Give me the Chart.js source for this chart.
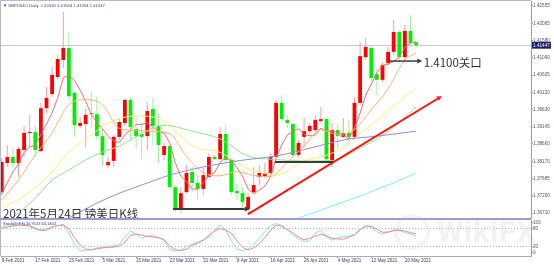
<!DOCTYPE html>
<html>
<head>
<meta charset="utf-8">
<script src="https://cdn.jsdelivr.net/npm/chart.js@4.4.1/dist/chart.umd.min.js"></script>
<style>
  html, body { margin: 0; padding: 0; background: #fff; }
  #wrap { position: relative; width: 554px; height: 265px; overflow: hidden; background: #fff; }
  canvas { position: absolute; left: 0; }
  #main { top: 0; }
  #stoch { top: 219px; }
  .frame { position: absolute; background: #b8b8cc; }
  #mark { position: absolute; left: 437px; top: 214px; font: bold 30px Roboto, sans-serif; color: rgba(175,175,195,0.16); letter-spacing: 1px; }
  #ring { position: absolute; left: 394px; top: 214px; width: 28px; height: 28px; border: 4px solid rgba(175,175,195,0.14); border-radius: 50%; }
</style>
</head>
<body>
<div id="wrap">
  <canvas id="main" width="554" height="219"></canvas>
  <canvas id="stoch" width="554" height="46"></canvas>
  <div class="frame" style="left:0;top:0;width:531px;height:1px"></div>
  <div class="frame" style="left:0;top:0;width:1px;height:256px"></div>
  <div class="frame" style="left:0;top:218px;width:531px;height:2px;background:#9c9cc8"></div>
  <div id="ring"></div>
  <div id="mark">WikiFX</div>
</div>
<script>
// --- Data ---
const openP = [1.3730,1.3812,1.3829,1.3812,1.3849,1.3897,1.3900,1.3846,1.3967,1.4007,
  1.4055,1.4103,1.4137,1.4010,1.3917,1.3922,1.3953,1.3950,1.3888,1.3806,
  1.3818,1.3886,1.3925,1.3990,1.3908,1.3894,1.3888,1.3965,1.3917,1.3835,
  1.3860,1.3744,1.3685,1.3730,1.3787,1.3756,1.3739,1.3773,1.3829,1.3823,
  1.3894,1.3821,1.3733,1.3727,1.3682,1.3730,1.3773,1.3775,1.3784,1.3829,
  1.3982,1.3934,1.3922,1.3835,1.3886,1.3902,1.3905,1.3931,1.3936,1.3812,
  1.3905,1.3886,1.3897,1.3886,1.3982,1.4111,1.4137,1.4063,1.4047,1.4094,
  1.4126,1.4182,1.4111,1.4185,1.41530];
const highP = [1.3826,1.3863,1.3857,1.3857,1.3917,1.3948,1.3919,1.3982,1.4027,1.4083,
  1.4117,1.4239,1.4179,1.4013,1.3942,1.3967,1.4013,1.4001,1.3911,1.3829,
  1.3891,1.3939,1.3996,1.3998,1.3942,1.3925,1.3984,1.3998,1.3953,1.3869,
  1.3863,1.3750,1.3744,1.3806,1.3801,1.3778,1.3798,1.3840,1.3835,1.3914,
  1.3919,1.3826,1.3756,1.3744,1.3727,1.3801,1.3806,1.3812,1.3840,1.3990,
  1.4004,1.3948,1.3925,1.3877,1.3939,1.3925,1.3948,1.3970,1.3939,1.3925,
  1.3922,1.3939,1.3934,1.3998,1.4154,1.4165,1.4145,1.4080,1.4097,1.4140,
  1.4216,1.4188,1.4202,1.4230,1.41564];
const lowP = [1.3719,1.3801,1.3801,1.3773,1.3829,1.3857,1.3829,1.3843,1.3953,1.3998,
  1.4047,1.4080,1.3990,1.3886,1.3911,1.3857,1.3914,1.3877,1.3804,1.3798,
  1.3801,1.3877,1.3917,1.3877,1.3854,1.3821,1.3849,1.3863,1.3812,1.3821,
  1.3739,1.3674,1.3671,1.3727,1.3730,1.3708,1.3722,1.3770,1.3821,1.3821,
  1.3815,1.3722,1.3708,1.3679,1.3665,1.3727,1.3750,1.3770,1.3778,1.3826,
  1.3931,1.3911,1.3829,1.3829,1.3857,1.3897,1.3897,1.3925,1.3815,1.3801,
  1.3854,1.3883,1.3863,1.3877,1.3976,1.4103,1.4044,1.4004,1.4041,1.4089,
  1.4117,1.4097,1.4103,1.4140,1.41354];
const closeP = [1.3815,1.3829,1.3812,1.3852,1.3897,1.3900,1.3849,1.3967,1.3996,1.4061,
  1.4106,1.4137,1.4001,1.3919,1.3925,1.3948,1.3950,1.3888,1.3835,1.3815,
  1.3886,1.3928,1.3990,1.3914,1.3888,1.3886,1.3959,1.3917,1.3863,1.3860,
  1.3744,1.3682,1.3727,1.3784,1.3756,1.3739,1.3778,1.3829,1.3823,1.3894,
  1.3821,1.3730,1.3727,1.3702,1.3716,1.3750,1.3784,1.3784,1.3829,1.3982,
  1.3936,1.3925,1.3835,1.3869,1.3902,1.3917,1.3934,1.3936,1.3823,1.3905,
  1.3888,1.3897,1.3886,1.3982,1.4114,1.4140,1.4052,1.4047,1.4089,1.4126,
  1.4182,1.4111,1.4185,1.4151,1.41447];

// moving averages as drawn (MA5 every bar, the slower ones at sampled bars)
const ma5 = [1.3725,1.3756,1.3787,1.3809,1.3841,1.3858,1.3862,1.3893,1.3922,1.3954,
  1.3996,1.4053,1.4060,1.4045,1.4018,1.3986,1.3949,1.3926,1.3909,1.3887,
  1.3875,1.3870,1.3891,1.3906,1.3921,1.3921,1.3927,1.3913,1.3902,1.3897,
  1.3869,1.3813,1.3775,1.3760,1.3739,1.3738,1.3757,1.3777,1.3785,1.3813,
  1.3829,1.3819,1.3799,1.3775,1.3739,1.3725,1.3736,1.3747,1.3773,1.3826,
  1.3863,1.3891,1.3901,1.3909,1.3893,1.3889,1.3891,1.3911,1.3902,1.3903,
  1.3897,1.3890,1.3880,1.3911,1.3953,1.4004,1.4035,1.4067,1.4088,1.4091,
  1.4099,1.4111,1.4139,1.4151,1.4155];
const ma10Bars = [0,3,6,9,12,15,18,21,24,27,30,33,36,39,42,45,48,51,54,57,60,63,66,69,72,74];
const ma10 = [1.3708,1.3764,1.3835,1.3898,1.3977,1.3991,1.3977,1.3910,1.3904,1.3902,1.3895,1.3831,1.3785,
  1.3776,1.3788,1.3777,1.3774,1.3814,1.3860,1.3906,1.3893,1.3907,1.3962,1.4022,1.4103,1.4123];
const ma20Bars = [0,4,9,12,14,16,19,24,29,34,39,44,49,54,59,64,69,74];
const ma20 = [1.3685,1.3719,1.3787,1.3843,1.3869,1.3891,1.3925,1.3945,1.3931,1.3861,1.3842,1.3797,
  1.3779,1.3818,1.3840,1.3894,1.3960,1.4025];
const ma30Bars = [0,3,6,9,12,15,18,21,24,29,34,39,44,49,54,59,64,69,74];
const ma30 = [1.3637,1.3671,1.3713,1.3764,1.3792,1.3821,1.3843,1.3860,1.3886,1.3919,1.3902,1.3880,
  1.3832,1.3822,1.3818,1.3819,1.3854,1.3901,1.3970];
const ma100Bars = [12,17,21,25,30,36,42,49,53,58,62,67,74];
const ma100 = [1.3657,1.3699,1.3727,1.3750,1.3778,1.3801,1.3818,1.3832,1.3846,1.3866,1.3880,1.3888,1.3902];
const ma200Bars = [52,58,64,70,74];
const ma200 = [1.3651,1.3685,1.3719,1.3756,1.3784];

const stochK = [87,90,94,99,95,87,78,76,79,86,
  90,95,65,30,6,8,10,16,18,20,
  23,27,52,72,62,48,56,56,50,40,
  12,6,9,20,28,36,42,52,75,92,
  76,40,12,6,13,28,48,70,90,97,
  92,76,60,45,38,40,65,75,53,42,
  50,53,53,62,78,90,85,70,62,68,
  75,74,67,62,57];
const stochD = [81,85,89,92,91,90,82,74,75,85,
  90,92,80,50,26,12,9,13,16,18,
  19,22,35,58,62,59,54,53,50,44,
  22,10,7,12,24,32,42,58,72,80,
  76,65,40,18,9,16,30,50,75,92,
  88,78,66,52,43,48,55,62,56,48,
  46,45,52,59,76,88,88,78,68,69,
  74,76,72,67,63];

const priceTicks = [1.36710,1.37200,1.37685,1.38170,1.38660,1.39145,1.39630,1.40120,
  1.40605,1.41090,1.41580,1.42065,1.42555];
const lastPrice = 1.41447;
const stochTicks = [0, 20, 80, 100];
const dateTickBars = [0,6,12,18,24,30,36,42,48,54,60,66,72];
const dateTickLabels = ['9 Feb 2021','17 Feb 2021','25 Feb 2021','5 Mar 2021','15 Mar 2021','23 Mar 2021',
  '31 Mar 2021','8 Apr 2021','16 Apr 2021','26 Apr 2021','4 May 2021','12 May 2021','20 May 2021'];

const headerText = 'GBPUSD#,Daily  1.41530 1.41564 1.41354 1.41447';
const stochText = 'Stoch(5,3,3) 56.9143 63.1464';
const keyText = '1.4100关口';
const titleText = '2021年5月24日 镑美日K线';

// drawn lines: [bar, price] pairs
const supportArrow = [[30.6, 1.3682], [44.3, 1.3682]];
const midLine = [[48.8, 1.3815], [59.1, 1.3815]];
const keyArrow = [[69.2, 1.4100], [75.1, 1.4100]];
const trendArrow = [[44.0, 1.3668], [78.6, 1.4001]];

// --- Helpers ---
const xMin = -0.125, xMax = 94.52;
const isUp = i => closeP[i] >= openP[i];
const pts = (bars, vals) => bars.map((b, k) => ({ x: b, y: vals[k] }));
const seq = vals => vals.map((v, i) => ({ x: i, y: v }));

function maLine(data, color, tension) {
    return {
        type: 'line', data, borderColor: color, borderWidth: 1, pointRadius: 0,
        tension: tension, cubicInterpolationMode: tension ? 'monotone' : 'default', order: 1
    };
}

function arrow(ctx, x1, y1, x2, y2, color, width, head) {
    const ang = Math.atan2(y2 - y1, x2 - x1);
    const len = head ? 5 : 0;
    ctx.save();
    ctx.strokeStyle = color;
    ctx.fillStyle = color;
    ctx.lineWidth = width;
    ctx.beginPath();
    ctx.moveTo(x1, y1);
    ctx.lineTo(x2 - Math.cos(ang) * len, y2 - Math.sin(ang) * len);
    ctx.stroke();
    if (head) {
        ctx.beginPath();
        ctx.moveTo(x2, y2);
        ctx.lineTo(x2 - Math.cos(ang) * len - Math.sin(ang) * 2.5, y2 - Math.sin(ang) * len + Math.cos(ang) * 2.5);
        ctx.lineTo(x2 - Math.cos(ang) * len + Math.sin(ang) * 2.5, y2 - Math.sin(ang) * len - Math.cos(ang) * 2.5);
        ctx.closePath();
        ctx.fill();
    }
    ctx.restore();
}

const mainOverlay = {
    id: 'mainOverlay',
    afterDatasetsDraw(chart) {
        const { ctx, chartArea: a, scales: { x, y } } = chart;
        const px = p => [x.getPixelForValue(p[0]), y.getPixelForValue(p[1])];
        ctx.save();
        ctx.beginPath();
        ctx.rect(a.left, a.top, a.right - a.left, a.bottom - a.top);
        ctx.clip();
        let s = px(trendArrow[0]), e = px(trendArrow[1]);
        arrow(ctx, s[0], s[1], e[0], e[1], '#ff1010', 2, true);
        s = px(supportArrow[0]); e = px(supportArrow[1]);
        arrow(ctx, s[0], s[1], e[0], e[1], '#3a3a3a', 2, true);
        s = px(midLine[0]); e = px(midLine[1]);
        arrow(ctx, s[0], s[1], e[0], e[1], '#3a3a3a', 2, false);
        s = px(keyArrow[0]); e = px(keyArrow[1]);
        arrow(ctx, s[0], s[1], e[0], e[1], '#3a3a3a', 1.5, true);

        ctx.fillStyle = '#333';
        ctx.font = '11.5px "Noto Sans CJK SC"';
        ctx.textBaseline = 'alphabetic';
        ctx.fillText(keyText, e[0] + 1.5, e[1] + 5.5);
        ctx.fillText(titleText, a.left + 2, a.bottom - 0.5);

        ctx.fillStyle = '#3a3a70';
        ctx.font = '4.2px "Liberation Sans"';
        ctx.fillText('\u25BC', a.left + 2, a.top + 5.5);
        ctx.fillText(headerText, a.left + 7, a.top + 5.5);
        ctx.restore();
    }
};

const stochOverlay = {
    id: 'stochOverlay',
    afterDatasetsDraw(chart) {
        const { ctx, chartArea: a } = chart;
        ctx.save();
        ctx.fillStyle = '#3a3a70';
        ctx.font = '4px "Liberation Sans"';
        ctx.textBaseline = 'alphabetic';
        ctx.fillText(stochText, a.left + 2, a.top + 5);
        ctx.restore();
    }
};

const tickFont = { family: 'Liberation Sans', size: 4.7, lineHeight: 0.4 };

// --- Main price chart ---
new Chart(document.getElementById('main'), {
    data: {
        datasets: [
            {
                type: 'bar', order: 3, grouped: false, barThickness: 1, inflateAmount: 0,
                data: openP.map((o, i) => ({ x: i, y: [lowP[i], highP[i]] })),
                backgroundColor: openP.map((o, i) => isUp(i) ? '#ff9c9c' : '#a4eea4')
            },
            {
                type: 'bar', order: 2, grouped: false, barThickness: 3.8, inflateAmount: 0, minBarLength: 1,
                data: openP.map((o, i) => ({ x: i, y: [o, closeP[i]] })),
                backgroundColor: openP.map((o, i) => isUp(i) ? '#ff0000' : '#00ee00')
            },
            maLine(pts(ma200Bars, ma200), '#7ff0f4', 0),
            maLine(pts(ma100Bars, ma100), '#8c8ce4', 0.4),
            maLine(pts(ma30Bars, ma30), '#8fe48f', 0.4),
            maLine(pts(ma20Bars, ma20), '#fbee78', 0.4),
            maLine(pts(ma10Bars, ma10), '#fcb46a', 0.4),
            maLine(seq(ma5), '#f46c6c', 0)
        ]
    },
    options: {
        responsive: false, animation: false, events: [],
        layout: { padding: { left: 1, top: 1, right: 0, bottom: 1 } },
        plugins: { legend: { display: false }, tooltip: { enabled: false } },
        scales: {
            x: { type: 'linear', min: xMin, max: xMax, offset: false, display: false },
            y: {
                type: 'linear', position: 'right', min: 1.36569, max: 1.42696,
                afterBuildTicks: ax => {
                    ax.ticks = priceTicks.concat([lastPrice]).sort((a, b) => a - b).map(v => ({ value: v }));
                },
                afterFit: ax => { ax.width = 23; },
                ticks: {
                    autoSkip: false, padding: 0, font: tickFont,
                    callback: v => v.toFixed(5),
                    color: c => c.tick.value === lastPrice ? '#ffffff' : '#55556a',
                    showLabelBackdrop: true,
                    backdropColor: c => c.tick.value === lastPrice ? '#1c1c6c' : 'rgba(0,0,0,0)',
                    backdropPadding: { x: 1, y: 2.5 }
                },
                grid: {
                    drawOnChartArea: true, tickLength: 2, tickColor: '#9a9ac0',
                    color: c => (c.tick && c.tick.value === lastPrice) ? '#c6c6ce' : 'rgba(0,0,0,0)'
                },
                border: { color: '#9a9ac0' }
            }
        }
    },
    plugins: [mainOverlay]
});

// --- Stochastic sub window ---
new Chart(document.getElementById('stoch'), {
    type: 'line',
    data: {
        datasets: [
            { data: seq(stochD), borderColor: '#f48888', borderWidth: 1, pointRadius: 0 },
            { data: seq(stochK), borderColor: '#86e2e2', borderWidth: 1, pointRadius: 0 }
        ]
    },
    options: {
        responsive: false, animation: false, events: [],
        layout: { padding: { left: 1, top: 1, right: 0, bottom: 0 } },
        plugins: { legend: { display: false }, tooltip: { enabled: false } },
        scales: {
            x: {
                type: 'linear', min: xMin, max: xMax, offset: false,
                afterBuildTicks: ax => { ax.ticks = dateTickBars.map(v => ({ value: v })); },
                afterFit: ax => { ax.height = 9; },
                ticks: {
                    autoSkip: false, maxRotation: 0, minRotation: 0, align: 'start', padding: 0,
                    font: { family: 'Liberation Sans', size: 4.5 }, color: '#3c3c50',
                    callback: (v, idx) => dateTickLabels[idx]
                },
                grid: { drawOnChartArea: false, tickLength: 2, tickColor: '#9a9ab4' },
                border: { color: '#a8a8c8' }
            },
            y: {
                type: 'linear', position: 'right', min: -11, max: 109,
                afterBuildTicks: ax => { ax.ticks = stochTicks.map(v => ({ value: v })); },
                afterFit: ax => { ax.width = 23; },
                ticks: { autoSkip: false, padding: 0, font: tickFont, color: '#55556a' },
                grid: {
                    drawOnChartArea: true, tickLength: 2, tickColor: '#9a9ac0',
                    color: c => (c.tick && (c.tick.value === 20 || c.tick.value === 80)) ? '#b4b4bc' : 'rgba(0,0,0,0)'
                },
                border: { color: '#9a9ac0', dash: [1, 2] }
            }
        }
    },
    plugins: [stochOverlay]
});
</script>
</body>
</html>
